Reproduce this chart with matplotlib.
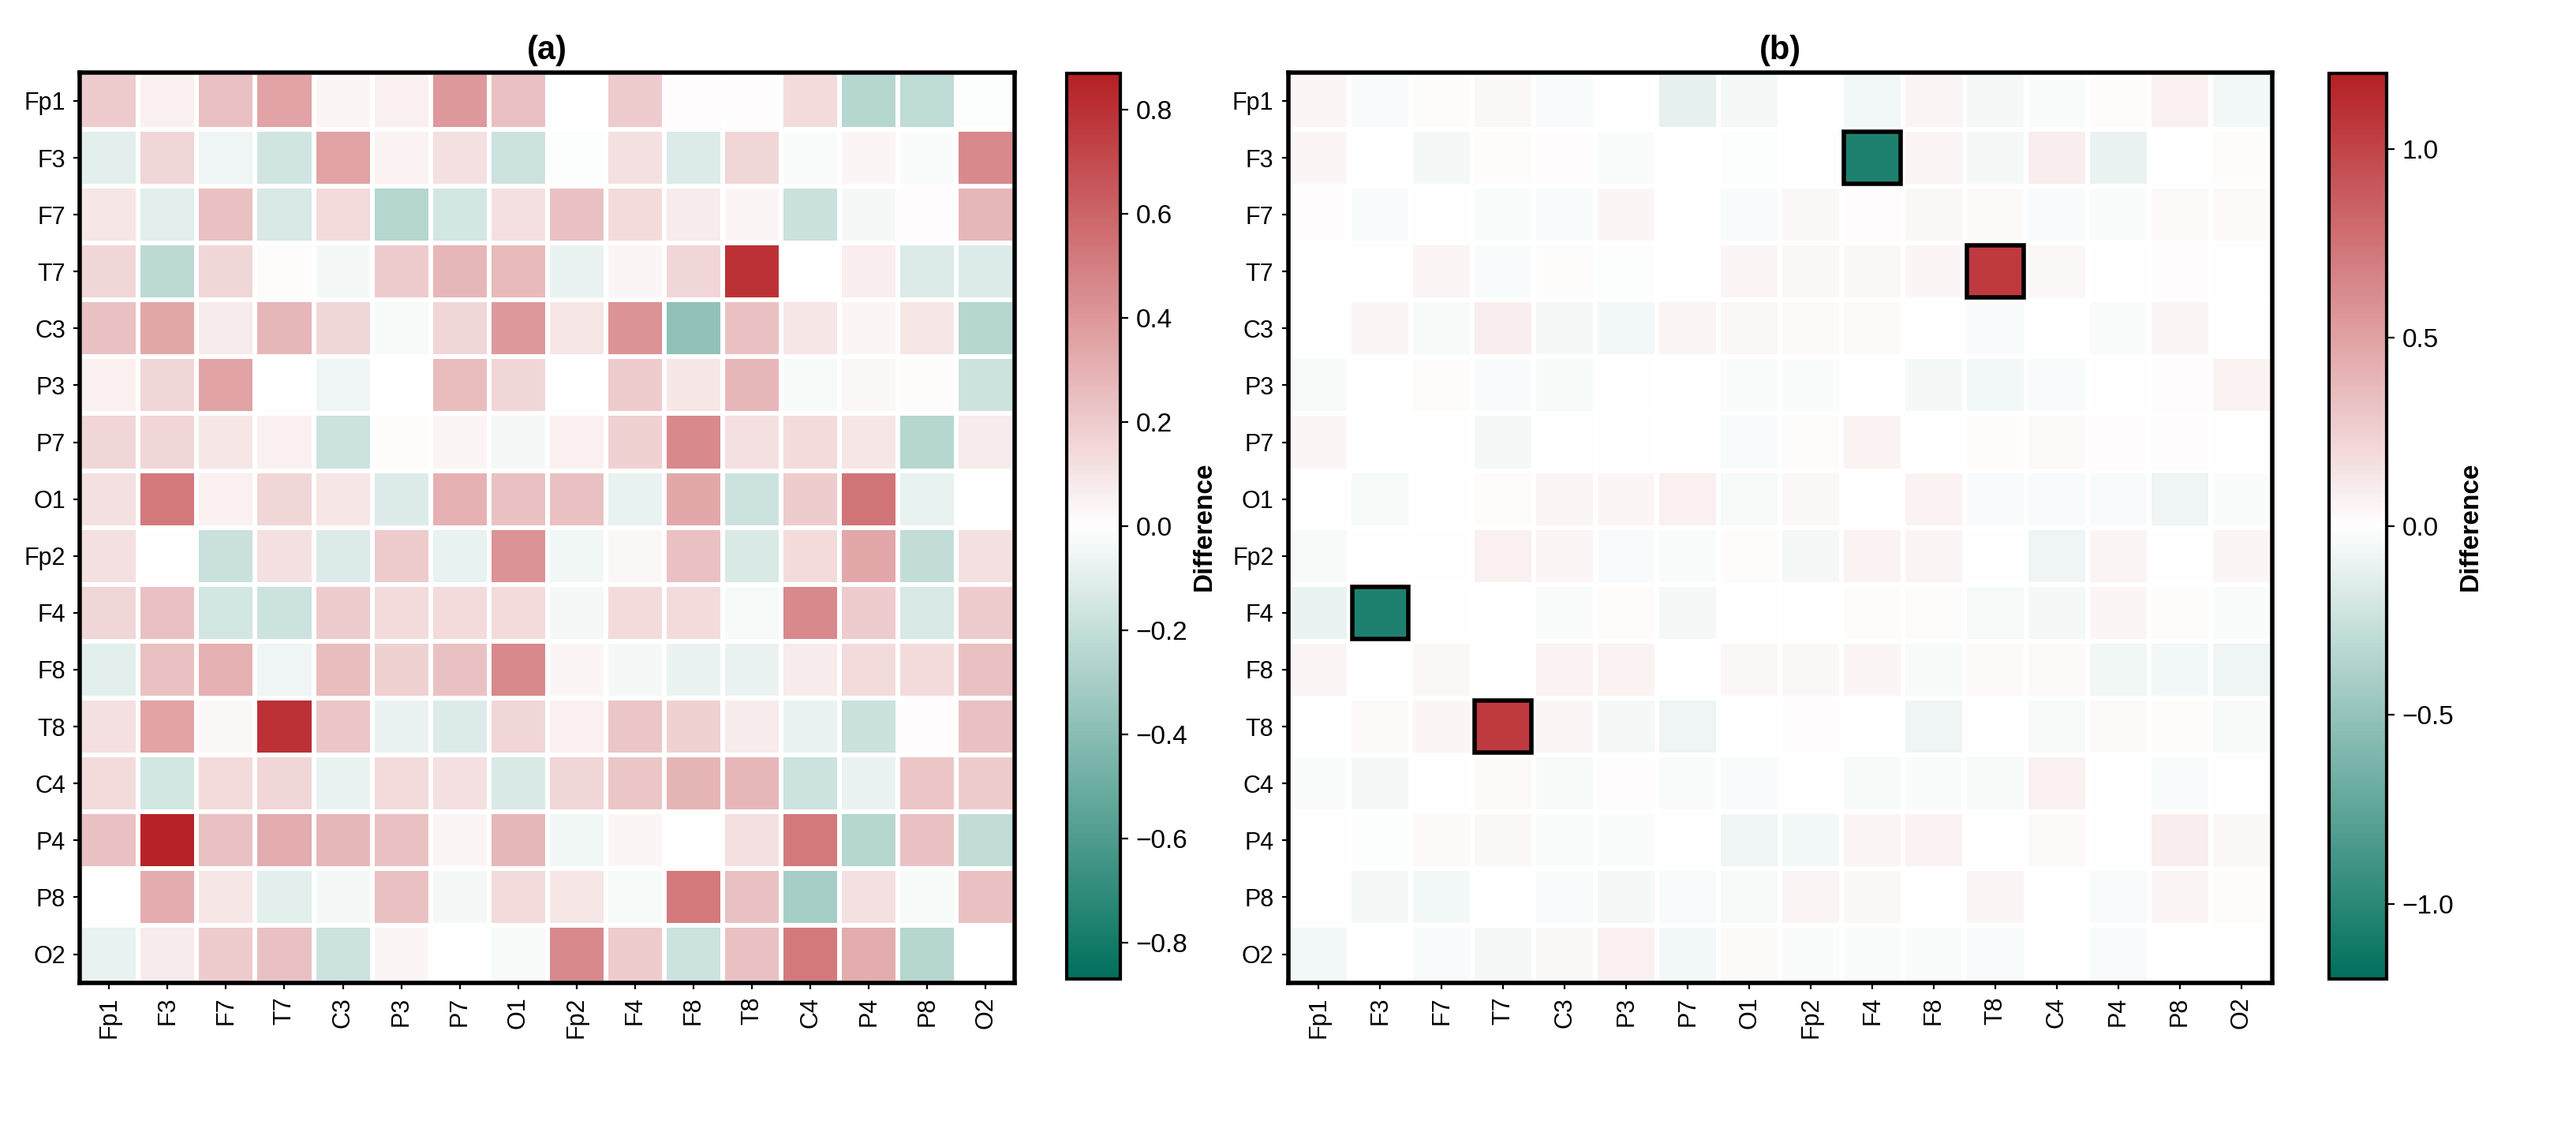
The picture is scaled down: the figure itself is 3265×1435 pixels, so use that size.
import matplotlib
matplotlib.use("Agg")
import matplotlib.pyplot as plt
from matplotlib.colors import LinearSegmentedColormap
from matplotlib.patches import Rectangle
import numpy as np

plt.rcParams['font.family'] = ['Liberation Sans', 'DejaVu Sans']

channels = ["Fp1", "F3", "F7", "T7", "C3", "P3", "P7", "O1",
            "Fp2", "F4", "F8", "T8", "C4", "P4", "P8", "O2"]

diff_a = [
    [0.20, 0.06, 0.24, 0.36, 0.04, 0.06, 0.40, 0.24, 0.00, 0.20, 0.01, 0.01, 0.14, -0.25, -0.22, -0.01],
    [-0.10, 0.16, -0.06, -0.16, 0.36, 0.05, 0.12, -0.17, -0.01, 0.12, -0.12, 0.16, -0.02, 0.04, -0.02, 0.46],
    [0.10, -0.10, 0.24, -0.13, 0.14, -0.25, -0.15, 0.12, 0.24, 0.14, 0.08, 0.04, -0.18, -0.04, 0.01, 0.28],
    [0.16, -0.23, 0.16, 0.02, -0.04, 0.20, 0.28, 0.27, -0.07, 0.04, 0.16, 0.80, 0.00, 0.07, -0.12, -0.12],
    [0.24, 0.34, 0.08, 0.28, 0.16, -0.03, 0.16, 0.40, 0.10, 0.42, -0.38, 0.24, 0.10, 0.04, 0.10, -0.25],
    [0.06, 0.16, 0.36, 0.00, -0.06, 0.00, 0.26, 0.16, 0.00, 0.20, 0.10, 0.28, -0.03, 0.03, 0.02, -0.17],
    [0.16, 0.16, 0.10, 0.06, -0.17, 0.02, 0.04, -0.04, 0.06, 0.18, 0.46, 0.12, 0.14, 0.10, -0.25, 0.08],
    [0.12, 0.52, 0.06, 0.16, 0.10, -0.12, 0.30, 0.24, 0.24, -0.08, 0.34, -0.17, 0.20, 0.54, -0.08, 0.00],
    [0.12, 0.00, -0.18, 0.12, -0.12, 0.20, -0.08, 0.42, -0.05, 0.03, 0.24, -0.13, 0.14, 0.34, -0.21, 0.12],
    [0.16, 0.24, -0.15, -0.17, 0.20, 0.14, 0.14, 0.14, -0.04, 0.14, 0.14, -0.03, 0.46, 0.20, -0.13, 0.20],
    [-0.10, 0.24, 0.30, -0.06, 0.26, 0.18, 0.24, 0.46, 0.04, -0.04, -0.07, -0.07, 0.08, 0.14, 0.14, 0.24],
    [0.12, 0.36, 0.03, 0.80, 0.22, -0.07, -0.12, 0.16, 0.06, 0.22, 0.18, 0.08, -0.07, -0.18, 0.01, 0.24],
    [0.14, -0.15, 0.14, 0.16, -0.07, 0.14, 0.12, -0.13, 0.16, 0.22, 0.29, 0.28, -0.17, -0.07, 0.22, 0.20],
    [0.24, 0.86, 0.24, 0.32, 0.28, 0.24, 0.04, 0.28, -0.05, 0.04, 0.00, 0.12, 0.52, -0.25, 0.24, -0.21],
    [0.00, 0.32, 0.10, -0.10, -0.04, 0.24, -0.04, 0.14, 0.10, -0.03, 0.52, 0.24, -0.30, 0.12, -0.03, 0.24],
    [-0.08, 0.08, 0.20, 0.24, -0.17, 0.04, 0.00, -0.03, 0.46, 0.20, -0.17, 0.24, 0.52, 0.32, -0.25, 0.00],
]

diff_b = [
    [0.05, -0.03, 0.02, 0.04, -0.03, 0.00, -0.12, -0.05, 0.00, -0.06, 0.06, -0.05, -0.02, 0.02, 0.08, -0.06],
    [0.05, 0.00, -0.05, 0.02, 0.01, -0.02, 0.00, -0.01, 0.00, -1.05, 0.06, -0.05, 0.10, -0.10, 0.00, 0.02],
    [0.01, -0.03, 0.00, -0.02, -0.03, 0.05, 0.00, -0.03, 0.04, 0.01, 0.04, 0.03, -0.03, -0.02, 0.03, 0.03],
    [0.00, 0.00, 0.06, -0.03, 0.02, -0.01, 0.00, 0.05, 0.04, 0.04, 0.05, 1.05, 0.04, 0.00, 0.01, 0.00],
    [0.00, 0.05, -0.04, 0.10, -0.05, -0.06, 0.06, 0.04, 0.03, 0.03, 0.00, -0.03, 0.00, -0.02, 0.05, 0.00],
    [-0.04, 0.00, 0.02, -0.03, -0.04, 0.00, 0.00, -0.02, -0.02, 0.00, -0.05, -0.06, -0.03, 0.00, 0.01, 0.07],
    [0.05, 0.00, 0.00, -0.05, 0.00, 0.00, 0.00, -0.03, 0.02, 0.07, 0.00, 0.02, 0.03, 0.01, 0.01, 0.00],
    [0.00, -0.04, 0.00, 0.02, 0.06, 0.05, 0.08, -0.04, 0.04, 0.00, 0.07, -0.03, -0.03, -0.03, -0.08, -0.02],
    [-0.04, 0.00, 0.00, 0.08, 0.05, -0.03, -0.02, 0.02, -0.05, 0.07, 0.06, 0.00, -0.08, 0.06, 0.00, 0.05],
    [-0.10, -1.05, 0.00, 0.00, -0.02, 0.02, -0.05, 0.00, 0.00, 0.02, 0.02, -0.04, -0.05, 0.05, 0.02, -0.02],
    [0.06, 0.00, 0.04, 0.00, 0.07, 0.07, 0.00, 0.04, 0.04, 0.05, -0.04, 0.03, 0.03, -0.07, -0.06, -0.08],
    [0.00, 0.03, 0.05, 1.05, 0.05, -0.05, -0.08, 0.00, 0.01, 0.00, -0.08, 0.00, -0.04, 0.03, 0.02, -0.04],
    [-0.02, -0.05, 0.00, 0.03, -0.04, 0.01, -0.02, -0.03, 0.00, -0.04, -0.02, -0.04, 0.08, 0.00, -0.03, 0.00],
    [0.00, -0.01, 0.03, 0.04, -0.02, -0.02, 0.00, -0.08, -0.06, 0.06, 0.07, 0.00, 0.03, 0.00, 0.10, 0.04],
    [0.00, -0.05, -0.06, 0.00, -0.03, -0.05, -0.03, -0.04, 0.06, 0.04, 0.00, 0.06, 0.00, -0.03, 0.06, 0.02],
    [-0.06, 0.00, -0.03, -0.05, 0.04, 0.08, -0.06, 0.03, -0.02, -0.02, -0.02, -0.03, 0.00, -0.03, 0.00, 0.00],
]

# cells outlined in panel (b): (row, col)
highlight_b = [(1, 9), (3, 11), (9, 1), (11, 3)]

cmap = LinearSegmentedColormap.from_list("tealred", ["#00705c", "#ffffff", "#b52025"])

fig = plt.figure(figsize=(16.325, 7.175), dpi=200)


def draw(ax_rect, cax_rect, data, vlim, ticks, title, boxes):
    ax = fig.add_axes(ax_rect)
    cax = fig.add_axes(cax_rect)
    data = np.array(data)
    n = len(channels)
    m = ax.pcolormesh(np.arange(n + 1), np.arange(n + 1), data, cmap=cmap,
                      vmin=-vlim, vmax=vlim, edgecolor="white", linewidth=1.6)
    ax.set_xlim(0, n)
    ax.set_ylim(n, 0)
    ax.set_xticks(np.arange(n) + 0.5)
    ax.set_yticks(np.arange(n) + 0.5)
    ax.set_xticklabels(channels, rotation=90, fontsize=11)
    ax.set_yticklabels(channels, fontsize=11)
    ax.tick_params(length=3)
    for s in ax.spines.values():
        s.set_linewidth(2)
    for r, c in boxes:
        ax.add_patch(Rectangle((c + 0.04, r + 0.04), 0.92, 0.92, fill=False,
                               edgecolor="black", linewidth=2, zorder=3))
    ax.set_title(title, fontsize=15, fontweight="bold")
    cb = fig.colorbar(m, cax=cax, ticks=ticks)
    cb.outline.set_linewidth(1.5)
    cb.ax.tick_params(labelsize=12)
    cb.set_label("Difference", fontsize=12, fontweight="bold", labelpad=2)


draw([0.031, 0.132, 0.363, 0.804], [0.414, 0.135, 0.021, 0.8],
     diff_a, 0.87, np.arange(-0.8, 0.81, 0.2), "(a)", [])
draw([0.50, 0.132, 0.382, 0.804], [0.904, 0.135, 0.0225, 0.8],
     diff_b, 1.2, [-1.0, -0.5, 0.0, 0.5, 1.0], "(b)", highlight_b)

fig.savefig("out.png", dpi=200)
